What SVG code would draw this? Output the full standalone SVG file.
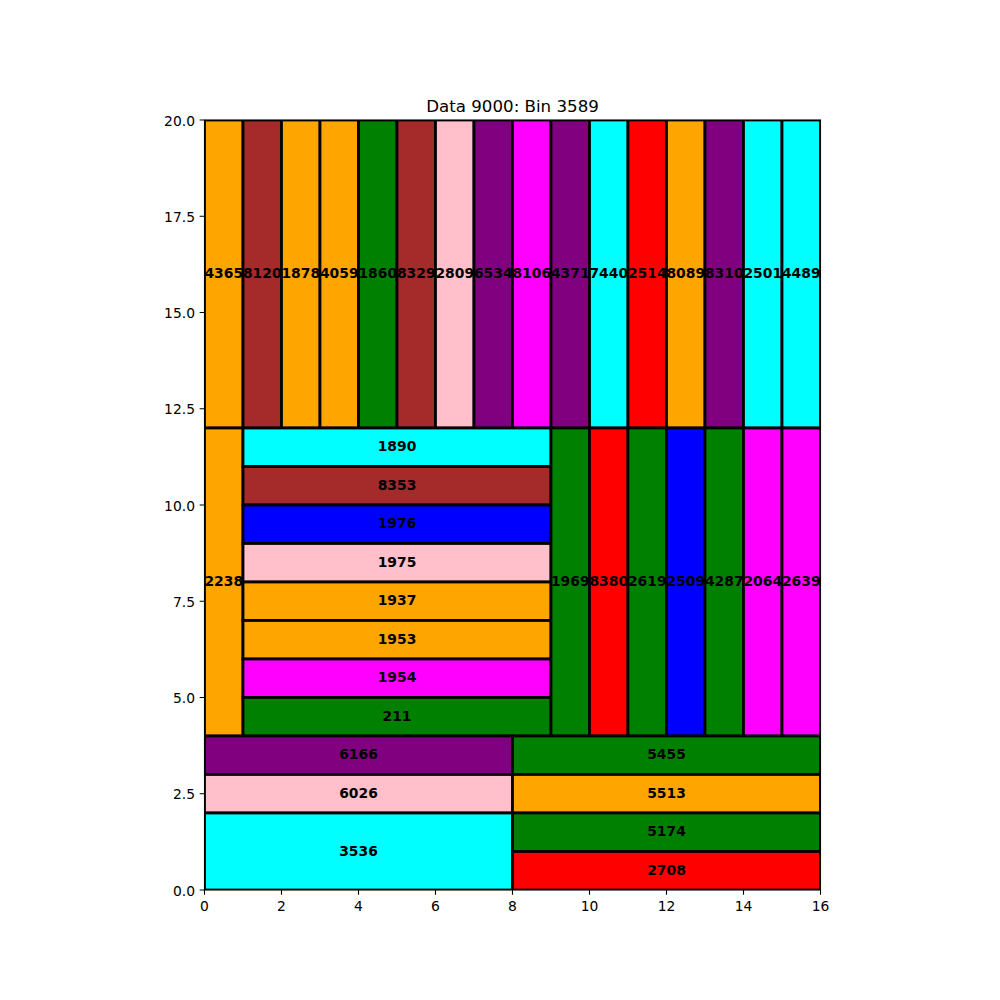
<svg xmlns="http://www.w3.org/2000/svg" width="1000" height="1000" viewBox="0 0 1000 1000">
<style>
.r{stroke:#000;stroke-width:2.78}
.l{font-family:"DejaVu Sans",sans-serif;font-size:13.89px;font-weight:bold;text-anchor:middle;fill:#000}
.t{font-family:"DejaVu Sans",sans-serif;font-size:13.89px;fill:#000}
.or{fill:#FFA500}.br{fill:#A52A2A}.gr{fill:#008000}.pk{fill:#FFC0CB}.pu{fill:#800080}.mg{fill:#FF00FF}.cy{fill:#00FFFF}.rd{fill:#FF0000}.bl{fill:#0000FF}
</style>
<defs><clipPath id="ax"><rect x="204.5" y="120" width="616" height="770"/></clipPath></defs>
<rect width="1000" height="1000" fill="#fff"/>
<text x="512.5" y="111.7" font-family="DejaVu Sans,sans-serif" font-size="16.67" text-anchor="middle">Data 9000: Bin 3589</text>
<g clip-path="url(#ax)">
<g id="top">
<rect class="r or" x="204.5" y="120" width="38.5" height="308"/>
<rect class="r br" x="243" y="120" width="38.5" height="308"/>
<rect class="r or" x="281.5" y="120" width="38.5" height="308"/>
<rect class="r or" x="320" y="120" width="38.5" height="308"/>
<rect class="r gr" x="358.5" y="120" width="38.5" height="308"/>
<rect class="r br" x="397" y="120" width="38.5" height="308"/>
<rect class="r pk" x="435.5" y="120" width="38.5" height="308"/>
<rect class="r pu" x="474" y="120" width="38.5" height="308"/>
<rect class="r mg" x="512.5" y="120" width="38.5" height="308"/>
<rect class="r pu" x="551" y="120" width="38.5" height="308"/>
<rect class="r cy" x="589.5" y="120" width="38.5" height="308"/>
<rect class="r rd" x="628" y="120" width="38.5" height="308"/>
<rect class="r or" x="666.5" y="120" width="38.5" height="308"/>
<rect class="r pu" x="705" y="120" width="38.5" height="308"/>
<rect class="r cy" x="743.5" y="120" width="38.5" height="308"/>
<rect class="r cy" x="782" y="120" width="38.5" height="308"/>
</g>
<g id="middle">
<rect class="r or" x="204.5" y="428" width="38.5" height="308"/>
<rect class="r cy" x="243" y="428" width="308" height="38.5"/>
<rect class="r br" x="243" y="466.5" width="308" height="38.5"/>
<rect class="r bl" x="243" y="505" width="308" height="38.5"/>
<rect class="r pk" x="243" y="543.5" width="308" height="38.5"/>
<rect class="r or" x="243" y="582" width="308" height="38.5"/>
<rect class="r or" x="243" y="620.5" width="308" height="38.5"/>
<rect class="r mg" x="243" y="659" width="308" height="38.5"/>
<rect class="r gr" x="243" y="697.5" width="308" height="38.5"/>
<rect class="r gr" x="551" y="428" width="38.5" height="308"/>
<rect class="r rd" x="589.5" y="428" width="38.5" height="308"/>
<rect class="r gr" x="628" y="428" width="38.5" height="308"/>
<rect class="r bl" x="666.5" y="428" width="38.5" height="308"/>
<rect class="r gr" x="705" y="428" width="38.5" height="308"/>
<rect class="r mg" x="743.5" y="428" width="38.5" height="308"/>
<rect class="r mg" x="782" y="428" width="38.5" height="308"/>
</g>
<g id="bottom">
<rect class="r pu" x="204.5" y="736" width="308" height="38.5"/>
<rect class="r pk" x="204.5" y="774.5" width="308" height="38.5"/>
<rect class="r cy" x="204.5" y="813" width="308" height="77"/>
<rect class="r gr" x="512.5" y="736" width="308" height="38.5"/>
<rect class="r or" x="512.5" y="774.5" width="308" height="38.5"/>
<rect class="r gr" x="512.5" y="813" width="308" height="38.5"/>
<rect class="r rd" x="512.5" y="851.5" width="308" height="38.5"/>
</g>
</g>
<g id="labels">
<text class="l" x="223.75" y="278">4365</text>
<text class="l" x="262.25" y="278">8120</text>
<text class="l" x="300.75" y="278">1878</text>
<text class="l" x="339.25" y="278">4059</text>
<text class="l" x="377.75" y="278">1860</text>
<text class="l" x="416.25" y="278">8329</text>
<text class="l" x="454.75" y="278">2809</text>
<text class="l" x="493.25" y="278">6534</text>
<text class="l" x="531.75" y="278">8106</text>
<text class="l" x="570.25" y="278">4371</text>
<text class="l" x="608.75" y="278">7440</text>
<text class="l" x="647.25" y="278">2514</text>
<text class="l" x="685.75" y="278">8089</text>
<text class="l" x="724.25" y="278">8310</text>
<text class="l" x="762.75" y="278">2501</text>
<text class="l" x="801.25" y="278">4489</text>
<text class="l" x="223.75" y="586">2238</text>
<text class="l" x="397" y="451.25">1890</text>
<text class="l" x="397" y="489.75">8353</text>
<text class="l" x="397" y="528.25">1976</text>
<text class="l" x="397" y="566.75">1975</text>
<text class="l" x="397" y="605.25">1937</text>
<text class="l" x="397" y="643.75">1953</text>
<text class="l" x="397" y="682.25">1954</text>
<text class="l" x="397" y="720.75">211</text>
<text class="l" x="570.25" y="586">1969</text>
<text class="l" x="608.75" y="586">8380</text>
<text class="l" x="647.25" y="586">2619</text>
<text class="l" x="685.75" y="586">2509</text>
<text class="l" x="724.25" y="586">4287</text>
<text class="l" x="762.75" y="586">2064</text>
<text class="l" x="801.25" y="586">2639</text>
<text class="l" x="358.5" y="759.25">6166</text>
<text class="l" x="358.5" y="797.75">6026</text>
<text class="l" x="358.5" y="855.5">3536</text>
<text class="l" x="666.5" y="759.25">5455</text>
<text class="l" x="666.5" y="797.75">5513</text>
<text class="l" x="666.5" y="836.25">5174</text>
<text class="l" x="666.5" y="874.75">2708</text>
</g>
<g id="axes" stroke="#000" stroke-width="1.11">
<rect x="204.5" y="120" width="616" height="770" fill="none" stroke-linecap="square"/>
<path d="M204.5 890v4.86M281.5 890v4.86M358.5 890v4.86M435.5 890v4.86M512.5 890v4.86M589.5 890v4.86M666.5 890v4.86M743.5 890v4.86M820.5 890v4.86"/>
<path d="M204.5 890h-4.86M204.5 793.75h-4.86M204.5 697.5h-4.86M204.5 601.25h-4.86M204.5 505h-4.86M204.5 408.75h-4.86M204.5 312.5h-4.86M204.5 216.25h-4.86M204.5 120h-4.86"/>
</g>
<g id="ticklabels" class="t">
<text class="t" text-anchor="middle" x="204.5" y="911">0</text>
<text class="t" text-anchor="middle" x="281.5" y="911">2</text>
<text class="t" text-anchor="middle" x="358.5" y="911">4</text>
<text class="t" text-anchor="middle" x="435.5" y="911">6</text>
<text class="t" text-anchor="middle" x="512.5" y="911">8</text>
<text class="t" text-anchor="middle" x="589.5" y="911">10</text>
<text class="t" text-anchor="middle" x="666.5" y="911">12</text>
<text class="t" text-anchor="middle" x="743.5" y="911">14</text>
<text class="t" text-anchor="middle" x="820.5" y="911">16</text>
<text class="t" text-anchor="end" x="195" y="895.5">0.0</text>
<text class="t" text-anchor="end" x="195" y="799.25">2.5</text>
<text class="t" text-anchor="end" x="195" y="703">5.0</text>
<text class="t" text-anchor="end" x="195" y="606.75">7.5</text>
<text class="t" text-anchor="end" x="195" y="510.5">10.0</text>
<text class="t" text-anchor="end" x="195" y="414.25">12.5</text>
<text class="t" text-anchor="end" x="195" y="318">15.0</text>
<text class="t" text-anchor="end" x="195" y="221.75">17.5</text>
<text class="t" text-anchor="end" x="195" y="125.5">20.0</text>
</g>
</svg>
